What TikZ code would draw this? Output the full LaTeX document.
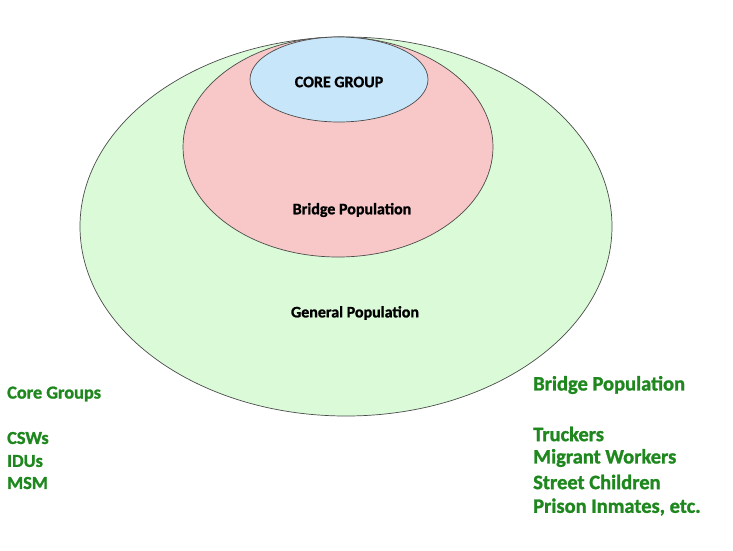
\documentclass[tikz,border=0pt]{standalone}
\usepackage{fontspec}
\setmainfont{Carlito}
\newfontfamily\heavyfont[FakeBold=1.2]{Carlito Bold}
\usetikzlibrary{shapes.geometric}
\definecolor{gpfill}{RGB}{218,250,216}
\definecolor{bpfill}{RGB}{248,200,200}
\definecolor{cgfill}{RGB}{200,230,250}
\definecolor{lblgreen}{RGB}{30,135,30}
\tikzset{
  ring/.style={ellipse, draw=black!70, line width=0.7pt, inner sep=0pt},
  intext/.style={text=black, inner sep=0pt, font=\heavyfont\fontsize{16}{18}\selectfont},
  sidetext/.style={text=lblgreen, inner sep=0pt, anchor=west},
  lefttext/.style={sidetext, font=\heavyfont\fontsize{18.3}{20}\selectfont},
  righttext/.style={sidetext, font=\heavyfont\fontsize{20.5}{23}\selectfont},
}
\begin{document}
\begin{tikzpicture}[x=1pt,y=-1pt]
\useasboundingbox (0,0) rectangle (733,550);
\fill[white] (0,0) rectangle (733,550);
\node[ring, fill=gpfill, minimum width=532pt, minimum height=379pt] (gp) at (346,226.5) {};
\node[ring, fill=bpfill, minimum width=310pt, minimum height=220pt] (bp) at (338,147) {};
\node[ring, fill=cgfill, minimum width=178pt, minimum height=85pt] (cg) at (339,79.5) {};
\node[intext] (cgt) at (339,82) {CORE GROUP};
\node[intext] (bpt) at (352,210) {Bridge Population};
\node[intext] (gpt) at (355,313) {General Population};
\node[lefttext] (lh) at (7,394) {Core Groups};
\node[lefttext] (l1) at (7,438) {CSWs};
\node[lefttext] (l2) at (7,461) {IDUs};
\node[lefttext] (l3) at (7,483) {MSM};
\node[righttext] (rh) at (533,385) {Bridge Population};
\node[righttext] (r1) at (533,434) {Truckers};
\node[righttext] (r2) at (533,458) {Migrant Workers};
\node[righttext] (r3) at (533,482) {Street Children};
\node[righttext] (r4) at (533,507) {Prison Inmates, etc.};
\end{tikzpicture}
\end{document}
